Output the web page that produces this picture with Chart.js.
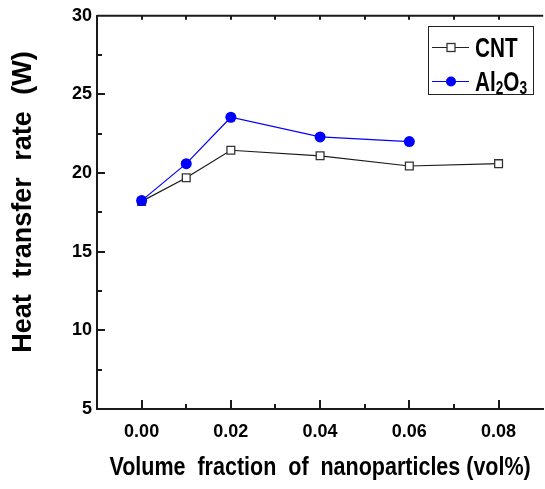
<!DOCTYPE html>
<html>
<head>
<meta charset="utf-8">
<script src="https://cdn.jsdelivr.net/npm/chart.js@4"></script>
<style>
  html, body { margin: 0; padding: 0; background: #fff; overflow: hidden; }
  #wrap { width: 550px; height: 489px; position: relative; }
</style>
</head>
<body>
<div id="wrap"><canvas id="chart"></canvas></div>
<script>
// Data
const cntFractions = [0, 0.01, 0.02, 0.04, 0.06, 0.08];
const cntValues = [18.2, 19.7, 21.45, 21.1, 20.45, 20.6];
const al2o3Fractions = [0, 0.01, 0.02, 0.04, 0.06];
const al2o3Values = [18.25, 20.6, 23.55, 22.3, 22.0];
const xTickValues = [0, 0.02, 0.04, 0.06, 0.08];
const yTickValues = [5, 10, 15, 20, 25, 30];

const FONT = 'Arial, "Liberation Sans", sans-serif';
const AXIS = '#1a1a1a';

function toPoints(xs, ys) {
  return xs.map((x, i) => ({ x: x, y: ys[i] }));
}

// draw text made of parts (subscripts allowed), squeezed horizontally by sx
function drawParts(ctx, parts, x, y, size, sx, align, wordGap) {
  ctx.save();
  ctx.wordSpacing = (wordGap || 0) + 'px';
  let total = 0;
  parts.forEach(p => {
    ctx.font = 'bold ' + (p.sub ? size * 0.66 : size) + 'px ' + FONT;
    p.w = ctx.measureText(p.t).width;
    total += p.w;
  });
  ctx.translate(x, y);
  ctx.scale(sx, 1);
  let cx = align === 'center' ? -total / 2 : 0;
  ctx.textBaseline = 'alphabetic';
  ctx.textAlign = 'left';
  ctx.fillStyle = '#000';
  parts.forEach(p => {
    ctx.font = 'bold ' + (p.sub ? size * 0.66 : size) + 'px ' + FONT;
    ctx.fillText(p.t, cx, p.sub ? size * 0.1 : 0);
    cx += p.w;
  });
  ctx.restore();
}

const decor = {
  id: 'decor',
  afterDraw(chart) {
    const ctx = chart.ctx;
    const a = chart.chartArea;
    const xs = chart.scales.x;
    const ys = chart.scales.y;

    ctx.save();
    ctx.strokeStyle = AXIS;
    ctx.lineWidth = 2;
    // top frame line
    ctx.beginPath();
    ctx.moveTo(a.left, a.top);
    ctx.lineTo(a.right, a.top);
    ctx.stroke();

    // inward ticks
    ctx.lineWidth = 2;
    ctx.beginPath();
    for (let i = 0; i <= 8; i++) {
      const px = Math.round(xs.getPixelForValue(i / 100));
      const len = i % 2 === 0 ? 9 : 5;
      ctx.moveTo(px, a.bottom);
      ctx.lineTo(px, a.bottom - len);
      ctx.moveTo(px, a.top);
      ctx.lineTo(px, a.top + 4);
    }
    for (let v = 7.5; v < 30; v += 2.5) {
      const py = Math.round(ys.getPixelForValue(v));
      const len = v % 5 === 0 ? 8 : 5;
      ctx.moveTo(a.left, py);
      ctx.lineTo(a.left + len, py);
    }
    ctx.stroke();
    ctx.restore();

    // axis titles
    drawParts(ctx, [{ t: 'Volume  fraction  of  nanoparticles (vol%)' }],
      (a.left + a.right) / 2, 475, 25, 0.86, 'center');
    ctx.save();
    ctx.translate(31, 202);
    ctx.rotate(-Math.PI / 2);
    drawParts(ctx, [{ t: 'Heat transfer rate (W)' }], 0, 0, 27, 1, 'center', 9);
    ctx.restore();

    // legend
    const bx = 428, by = 26, bw = 105, bh = 68;
    ctx.save();
    ctx.strokeStyle = '#222';
    ctx.lineWidth = 1;
    ctx.strokeRect(bx + 0.5, by + 0.5, bw, bh);
    const rows = [
      { y: 47, color: '#222', ds: chart.data.datasets[0], parts: [{ t: 'CNT' }] },
      { y: 81, color: '#0000ff', ds: chart.data.datasets[1], parts: [{ t: 'Al' }, { t: '2', sub: true }, { t: 'O' }, { t: '3', sub: true }] }
    ];
    rows.forEach(r => {
      ctx.strokeStyle = r.color;
      ctx.lineWidth = 1;
      ctx.beginPath();
      ctx.moveTo(432, r.y + 0.5);
      ctx.lineTo(469, r.y + 0.5);
      ctx.stroke();
      if (r.ds.pointStyle === 'rect') {
        ctx.fillStyle = '#fff';
        ctx.strokeStyle = '#333';
        ctx.lineWidth = 1.3;
        ctx.fillRect(447, r.y - 3.5, 8, 8);
        ctx.strokeRect(447, r.y - 3.5, 8, 8);
      } else {
        ctx.fillStyle = '#0000ff';
        ctx.beginPath();
        ctx.arc(451, r.y + 0.5, 5, 0, Math.PI * 2);
        ctx.fill();
      }
      drawParts(ctx, r.parts, 475, r.y + 10, 28, 0.74, 'left');
    });
    ctx.restore();
  }
};

const ctx = document.getElementById('chart').getContext('2d');
new Chart(ctx, {
  type: 'line',
  data: {
    datasets: [
      {
        label: 'CNT',
        data: toPoints(cntFractions, cntValues),
        order: 1,
        borderColor: '#1a1a1a',
        borderWidth: 1.2,
        pointStyle: 'rect',
        pointRadius: 5.5,
        pointBackgroundColor: '#fff',
        pointBorderColor: '#333',
        pointBorderWidth: 1.3,
        tension: 0
      },
      {
        label: 'Al2O3',
        data: toPoints(al2o3Fractions, al2o3Values),
        order: 0,
        borderColor: '#0000ff',
        borderWidth: 1.2,
        pointStyle: 'circle',
        pointRadius: 5.5,
        pointBackgroundColor: '#0000ff',
        pointBorderColor: '#0000ff',
        pointBorderWidth: 0,
        tension: 0
      }
    ]
  },
  options: {
    responsive: true,
    maintainAspectRatio: false,
    animation: false,
    layout: { padding: { top: 15, right: 3, left: 0, bottom: 0 } },
    plugins: {
      legend: { display: false },
      tooltip: { enabled: false }
    },
    scales: {
      x: {
        type: 'linear',
        min: -0.01,
        max: 0.09,
        afterBuildTicks: s => { s.ticks = xTickValues.map(v => ({ value: v })); },
        afterFit: s => { s.height = 80; },
        ticks: {
          autoSkip: false,
          maxRotation: 0,
          padding: 12,
          color: '#000',
          font: { family: FONT, size: 18, weight: 'bold' },
          callback: v => v.toFixed(2)
        },
        grid: { display: true, drawOnChartArea: false, drawTicks: false },
        border: { display: true, color: AXIS, width: 2 }
      },
      y: {
        min: 5,
        max: 30,
        afterBuildTicks: s => { s.ticks = yTickValues.map(v => ({ value: v })); },
        afterFit: s => { s.width = 97; },
        ticks: {
          padding: 5,
          color: '#000',
          font: { family: FONT, size: 18, weight: 'bold' }
        },
        grid: { display: true, drawOnChartArea: false, drawTicks: false },
        border: { display: true, color: AXIS, width: 2 }
      }
    }
  },
  plugins: [decor]
});
</script>
</body>
</html>
